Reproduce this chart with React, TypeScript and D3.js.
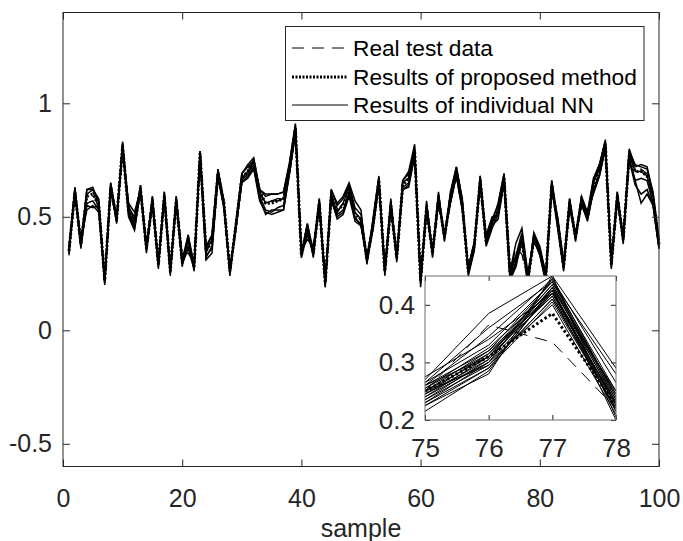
import * as d3 from "d3";
import { useRef, useEffect } from "react";

// sample index on the x axis
const samples = d3.range(1, 101);

// real test data (dashed)
const realData = [
  0.34, 0.62, 0.37, 0.60, 0.61, 0.54, 0.21, 0.64, 0.48, 0.83,
  0.53, 0.46, 0.63, 0.35, 0.58, 0.28, 0.60, 0.25, 0.58, 0.29,
  0.40, 0.27, 0.79, 0.34, 0.40, 0.70, 0.55, 0.25, 0.45, 0.68,
  0.71, 0.75, 0.60, 0.56, 0.57, 0.58, 0.58, 0.72, 0.91, 0.32,
  0.46, 0.33, 0.57, 0.19, 0.60, 0.52, 0.56, 0.63, 0.52, 0.48,
  0.30, 0.47, 0.67, 0.25, 0.56, 0.31, 0.65, 0.68, 0.81, 0.20,
  0.55, 0.33, 0.59, 0.40, 0.59, 0.71, 0.56, 0.25, 0.36, 0.67,
  0.38, 0.47, 0.52, 0.68, 0.25, 0.365, 0.335, 0.22, 0.41, 0.34,
  0.22, 0.65, 0.46, 0.27, 0.57, 0.40, 0.58, 0.49, 0.65, 0.72,
  0.84, 0.28, 0.60, 0.39, 0.79, 0.71, 0.71, 0.69, 0.58, 0.37,
];

// results of proposed method (dotted)
const proposedData = [
  0.35, 0.61, 0.38, 0.59, 0.60, 0.55, 0.22, 0.63, 0.49, 0.81,
  0.52, 0.47, 0.62, 0.36, 0.57, 0.29, 0.59, 0.26, 0.57, 0.30,
  0.39, 0.28, 0.78, 0.35, 0.39, 0.69, 0.56, 0.26, 0.46, 0.67,
  0.70, 0.74, 0.61, 0.56, 0.56, 0.57, 0.58, 0.71, 0.89, 0.33,
  0.45, 0.34, 0.56, 0.21, 0.59, 0.53, 0.55, 0.62, 0.51, 0.49,
  0.31, 0.46, 0.66, 0.26, 0.55, 0.32, 0.64, 0.67, 0.79, 0.22,
  0.54, 0.34, 0.58, 0.41, 0.58, 0.70, 0.55, 0.26, 0.37, 0.66,
  0.39, 0.46, 0.53, 0.67, 0.25, 0.31, 0.385, 0.225, 0.40, 0.35,
  0.23, 0.64, 0.47, 0.28, 0.56, 0.41, 0.57, 0.50, 0.64, 0.71,
  0.82, 0.29, 0.59, 0.40, 0.77, 0.70, 0.70, 0.68, 0.58, 0.38,
];

// results of individual NN (solid)
const nn1 = [
  0.36, 0.63, 0.39, 0.62, 0.63, 0.56, 0.22, 0.65, 0.50, 0.82,
  0.55, 0.48, 0.64, 0.36, 0.59, 0.29, 0.61, 0.26, 0.59, 0.31,
  0.42, 0.29, 0.79, 0.36, 0.42, 0.71, 0.57, 0.26, 0.47, 0.69,
  0.72, 0.75, 0.62, 0.59, 0.60, 0.60, 0.61, 0.73, 0.90, 0.34,
  0.47, 0.35, 0.58, 0.21, 0.62, 0.55, 0.58, 0.64, 0.54, 0.51,
  0.32, 0.48, 0.67, 0.27, 0.57, 0.33, 0.66, 0.69, 0.80, 0.23,
  0.56, 0.35, 0.60, 0.42, 0.60, 0.72, 0.57, 0.27, 0.38, 0.68,
  0.41, 0.49, 0.55, 0.69, 0.27, 0.33, 0.43, 0.24, 0.42, 0.36,
  0.24, 0.66, 0.49, 0.29, 0.58, 0.42, 0.59, 0.52, 0.67, 0.73,
  0.83, 0.30, 0.61, 0.41, 0.79, 0.73, 0.72, 0.71, 0.61, 0.40,
];
const nn2 = [
  0.34, 0.60, 0.37, 0.56, 0.57, 0.53, 0.21, 0.62, 0.48, 0.80,
  0.50, 0.44, 0.61, 0.35, 0.56, 0.28, 0.58, 0.25, 0.56, 0.29,
  0.36, 0.27, 0.77, 0.33, 0.36, 0.68, 0.55, 0.25, 0.45, 0.65,
  0.68, 0.72, 0.59, 0.53, 0.52, 0.54, 0.55, 0.70, 0.88, 0.32,
  0.43, 0.33, 0.55, 0.20, 0.58, 0.51, 0.53, 0.61, 0.49, 0.47,
  0.30, 0.45, 0.65, 0.25, 0.54, 0.31, 0.63, 0.65, 0.78, 0.21,
  0.53, 0.33, 0.57, 0.40, 0.57, 0.69, 0.54, 0.25, 0.36, 0.65,
  0.37, 0.45, 0.51, 0.66, 0.24, 0.30, 0.41, 0.22, 0.39, 0.34,
  0.22, 0.63, 0.45, 0.27, 0.55, 0.40, 0.56, 0.48, 0.62, 0.69,
  0.81, 0.28, 0.58, 0.39, 0.76, 0.66, 0.67, 0.66, 0.56, 0.37,
];
const nn3 = [
  0.35, 0.62, 0.38, 0.60, 0.62, 0.57, 0.22, 0.64, 0.49, 0.82,
  0.53, 0.46, 0.63, 0.37, 0.58, 0.30, 0.60, 0.27, 0.58, 0.31,
  0.40, 0.28, 0.78, 0.35, 0.40, 0.70, 0.56, 0.27, 0.46, 0.67,
  0.70, 0.74, 0.61, 0.56, 0.57, 0.57, 0.58, 0.72, 0.89, 0.35,
  0.44, 0.36, 0.57, 0.22, 0.60, 0.52, 0.56, 0.63, 0.52, 0.49,
  0.31, 0.47, 0.66, 0.26, 0.56, 0.32, 0.65, 0.67, 0.80, 0.22,
  0.55, 0.34, 0.59, 0.41, 0.59, 0.71, 0.56, 0.26, 0.37, 0.67,
  0.39, 0.47, 0.53, 0.68, 0.25, 0.32, 0.42, 0.23, 0.41, 0.35,
  0.23, 0.65, 0.47, 0.28, 0.57, 0.41, 0.58, 0.50, 0.65, 0.71,
  0.82, 0.29, 0.60, 0.40, 0.78, 0.70, 0.70, 0.68, 0.59, 0.39,
];
const nn4 = [
  0.37, 0.61, 0.40, 0.53, 0.55, 0.52, 0.23, 0.63, 0.50, 0.79,
  0.56, 0.52, 0.62, 0.38, 0.57, 0.30, 0.59, 0.27, 0.57, 0.33,
  0.34, 0.30, 0.77, 0.31, 0.34, 0.69, 0.54, 0.27, 0.44, 0.66,
  0.69, 0.73, 0.58, 0.51, 0.53, 0.53, 0.53, 0.69, 0.87, 0.35,
  0.40, 0.37, 0.54, 0.23, 0.57, 0.50, 0.52, 0.60, 0.50, 0.46,
  0.33, 0.46, 0.64, 0.28, 0.55, 0.34, 0.62, 0.64, 0.77, 0.24,
  0.52, 0.36, 0.56, 0.43, 0.56, 0.68, 0.53, 0.28, 0.39, 0.64,
  0.42, 0.50, 0.50, 0.65, 0.23, 0.29, 0.40, 0.21, 0.43, 0.37,
  0.25, 0.62, 0.50, 0.30, 0.54, 0.43, 0.55, 0.53, 0.60, 0.68,
  0.80, 0.31, 0.57, 0.42, 0.75, 0.64, 0.60, 0.62, 0.55, 0.36,
];
const nn5 = [
  0.33, 0.63, 0.36, 0.62, 0.62, 0.58, 0.20, 0.65, 0.47, 0.83,
  0.51, 0.45, 0.64, 0.34, 0.59, 0.27, 0.61, 0.24, 0.59, 0.28,
  0.42, 0.26, 0.79, 0.37, 0.42, 0.71, 0.56, 0.24, 0.47, 0.69,
  0.73, 0.76, 0.62, 0.60, 0.60, 0.60, 0.61, 0.74, 0.91, 0.33,
  0.47, 0.32, 0.58, 0.19, 0.62, 0.56, 0.59, 0.65, 0.57, 0.53,
  0.29, 0.49, 0.68, 0.24, 0.58, 0.30, 0.66, 0.70, 0.82, 0.19,
  0.57, 0.32, 0.61, 0.39, 0.61, 0.72, 0.58, 0.24, 0.35, 0.68,
  0.38, 0.48, 0.56, 0.69, 0.26, 0.385, 0.45, 0.25, 0.40, 0.33,
  0.21, 0.66, 0.46, 0.26, 0.58, 0.39, 0.59, 0.51, 0.66, 0.73,
  0.84, 0.27, 0.61, 0.38, 0.80, 0.72, 0.73, 0.72, 0.60, 0.38,
];
const nn6 = [
  0.35, 0.60, 0.37, 0.55, 0.54, 0.55, 0.21, 0.62, 0.48, 0.80,
  0.54, 0.50, 0.61, 0.36, 0.55, 0.29, 0.58, 0.26, 0.56, 0.30,
  0.37, 0.28, 0.76, 0.32, 0.37, 0.67, 0.54, 0.26, 0.45, 0.65,
  0.67, 0.71, 0.57, 0.52, 0.51, 0.52, 0.53, 0.69, 0.87, 0.34,
  0.42, 0.35, 0.54, 0.21, 0.58, 0.49, 0.51, 0.59, 0.48, 0.46,
  0.31, 0.44, 0.64, 0.26, 0.53, 0.32, 0.62, 0.63, 0.77, 0.22,
  0.52, 0.35, 0.56, 0.42, 0.56, 0.68, 0.53, 0.27, 0.38, 0.64,
  0.40, 0.46, 0.49, 0.65, 0.22, 0.28, 0.40, 0.20, 0.42, 0.35,
  0.23, 0.62, 0.48, 0.28, 0.54, 0.42, 0.55, 0.49, 0.61, 0.68,
  0.80, 0.30, 0.57, 0.41, 0.75, 0.66, 0.56, 0.60, 0.55, 0.36,
];
const nnSeries = [nn1, nn2, nn3, nn4, nn5, nn6];

// zoomed view, samples 75-78
const zoomSamples = [75, 76, 77, 78];
const zoomReal = [0.25, 0.365, 0.335, 0.22];
const zoomProposed = [0.25, 0.31, 0.385, 0.225];
const zoomNN = [
  [0.270, 0.385, 0.450, 0.290],
  [0.265, 0.360, 0.440, 0.280],
  [0.260, 0.345, 0.445, 0.265],
  [0.215, 0.285, 0.430, 0.200],
  [0.225, 0.280, 0.450, 0.205],
  [0.275, 0.340, 0.420, 0.250],
  [0.240, 0.300, 0.420, 0.230],
  [0.245, 0.305, 0.425, 0.235],
  [0.250, 0.310, 0.430, 0.240],
  [0.255, 0.315, 0.435, 0.245],
  [0.235, 0.295, 0.410, 0.225],
  [0.230, 0.290, 0.405, 0.220],
  [0.260, 0.320, 0.440, 0.250],
  [0.250, 0.320, 0.415, 0.215],
  [0.245, 0.300, 0.400, 0.210],
  [0.240, 0.310, 0.435, 0.230],
  [0.255, 0.325, 0.425, 0.225],
  [0.230, 0.300, 0.445, 0.240],
  [0.265, 0.330, 0.440, 0.235],
  [0.250, 0.295, 0.410, 0.220],
  [0.235, 0.305, 0.430, 0.245],
  [0.245, 0.315, 0.420, 0.225],
  [0.260, 0.310, 0.415, 0.230],
  [0.225, 0.290, 0.425, 0.215],
];

const xTicks = [0, 20, 40, 60, 80, 100];
const yTicks = [-0.5, 0, 0.5, 1];
const zoomXTicks = [75, 76, 77, 78];
const zoomYTicks = [0.2, 0.3, 0.4];
const legendLabels = ["Real test data", "Results of proposed method", "Results of individual NN"];

const font = "'Liberation Sans', Arial, sans-serif";
const ink = "#262626";

export default function App() {
  const svgRef = useRef<SVGSVGElement>(null);

  useEffect(() => {
    const width = 683;
    const height = 541;
    const svg = d3.select(svgRef.current);
    svg.selectAll("*").remove();

    const x = d3.scaleLinear().domain([0, 100]).range([63, 659]);
    const y = d3.scaleLinear().domain([-0.6, 1.4]).range([466.5, 12.5]);

    svg.append("rect").attr("width", width).attr("height", height).attr("fill", "white");

    const line = d3.line<number>()
      .x((d, i) => x(samples[i]))
      .y(d => y(d));

    const plot = svg.append("g");
    nnSeries.forEach(s => {
      plot.append("path").attr("d", line(s)).attr("fill", "none")
        .attr("stroke", "#000").attr("stroke-width", 1.5);
    });
    plot.append("path").attr("d", line(realData)).attr("fill", "none")
      .attr("stroke", "#000").attr("stroke-width", 1.2).attr("stroke-dasharray", "12,8");
    plot.append("path").attr("d", line(proposedData)).attr("fill", "none")
      .attr("stroke", "#000").attr("stroke-width", 3).attr("stroke-dasharray", "2,2");

    // main axes, ticks pointing inwards on all four sides
    const styleAxis = (g: any, size: number) => {
      g.attr("color", ink).attr("font-family", font).attr("font-size", size);
      g.select(".domain").remove();
    };
    svg.append("g").attr("transform", `translate(0,${y.range()[0]})`)
      .call(d3.axisBottom(x).tickValues(xTicks).tickSizeInner(-7).tickSizeOuter(0).tickPadding(23).tickFormat(d => String(d)))
      .call(g => styleAxis(g, 25));
    svg.append("g").attr("transform", `translate(0,${y.range()[1]})`)
      .call(d3.axisTop(x).tickValues(xTicks).tickSizeInner(-7).tickSizeOuter(0).tickFormat(() => ""))
      .call(g => styleAxis(g, 25));
    svg.append("g").attr("transform", `translate(${x.range()[0]},0)`)
      .call(d3.axisLeft(y).tickValues(yTicks).tickSizeInner(-7).tickSizeOuter(0).tickPadding(11).tickFormat(d => String(d)))
      .call(g => styleAxis(g, 25));
    svg.append("g").attr("transform", `translate(${x.range()[1]},0)`)
      .call(d3.axisRight(y).tickValues(yTicks).tickSizeInner(-7).tickSizeOuter(0).tickFormat(() => ""))
      .call(g => styleAxis(g, 25));
    svg.append("rect")
      .attr("x", x.range()[0]).attr("y", y.range()[1])
      .attr("width", x.range()[1] - x.range()[0]).attr("height", y.range()[0] - y.range()[1])
      .attr("fill", "none").attr("stroke", ink).attr("stroke-width", 1);

    svg.append("text")
      .attr("x", (x.range()[0] + x.range()[1]) / 2).attr("y", 537)
      .attr("text-anchor", "middle").attr("font-family", font).attr("font-size", 25)
      .attr("fill", ink).text("sample");

    // legend
    const legend = svg.append("g");
    legend.append("rect").attr("x", 285.5).attr("y", 26.5).attr("width", 358.5).attr("height", 94)
      .attr("fill", "white").attr("stroke", ink).attr("stroke-width", 1);
    const rowY = [48, 77, 105];
    const dashes = ["12,8", "2,1.5", null];
    const widths = [1, 3, 1];
    legendLabels.forEach((label, i) => {
      const l = legend.append("line").attr("x1", 292).attr("x2", 348)
        .attr("y1", rowY[i]).attr("y2", rowY[i])
        .attr("stroke", "#000").attr("stroke-width", widths[i]);
      if (dashes[i]) l.attr("stroke-dasharray", dashes[i]);
      legend.append("text").attr("x", 353).attr("y", rowY[i]).attr("dy", "0.35em")
        .attr("font-family", font).attr("font-size", 22.7).attr("fill", "#000").text(label);
    });

    // inset
    const ix = d3.scaleLinear().domain([75, 78]).range([425, 616]);
    const iy = d3.scaleLinear().domain([0.2, 0.45]).range([420, 276]);
    svg.append("rect").attr("x", 425).attr("y", 276).attr("width", 191).attr("height", 144).attr("fill", "white");
    svg.append("clipPath").attr("id", "inset-clip")
      .append("rect").attr("x", 425).attr("y", 276).attr("width", 191).attr("height", 144);
    const iline = d3.line<number>()
      .x((d, i) => ix(zoomSamples[i]))
      .y(d => iy(d));
    const inset = svg.append("g").attr("clip-path", "url(#inset-clip)");
    zoomNN.forEach(s => {
      inset.append("path").attr("d", iline(s)).attr("fill", "none")
        .attr("stroke", "#000").attr("stroke-width", 1);
    });
    inset.append("path").attr("d", iline(zoomReal)).attr("fill", "none")
      .attr("stroke", "#000").attr("stroke-width", 1).attr("stroke-dasharray", "12,8");
    inset.append("path").attr("d", iline(zoomProposed)).attr("fill", "none")
      .attr("stroke", "#000").attr("stroke-width", 3).attr("stroke-dasharray", "2.5,2.5");

    svg.append("g").attr("transform", "translate(0,420)")
      .call(d3.axisBottom(ix).tickValues(zoomXTicks).tickSizeInner(-5).tickSizeOuter(0).tickPadding(19).tickFormat(d => String(d)))
      .call(g => styleAxis(g, 26));
    svg.append("g").attr("transform", "translate(0,276)")
      .call(d3.axisTop(ix).tickValues(zoomXTicks).tickSizeInner(-5).tickSizeOuter(0).tickFormat(() => ""))
      .call(g => styleAxis(g, 26));
    svg.append("g").attr("transform", "translate(425,0)")
      .call(d3.axisLeft(iy).tickValues(zoomYTicks).tickSizeInner(-5).tickSizeOuter(0).tickPadding(10).tickFormat(d => String(d)))
      .call(g => styleAxis(g, 26));
    svg.append("g").attr("transform", "translate(616,0)")
      .call(d3.axisRight(iy).tickValues(zoomYTicks).tickSizeInner(-5).tickSizeOuter(0).tickFormat(() => ""))
      .call(g => styleAxis(g, 26));
    svg.append("rect").attr("x", 425).attr("y", 276).attr("width", 191).attr("height", 144)
      .attr("fill", "none").attr("stroke", "#6e6e6e").attr("stroke-width", 1);
  }, []);

  return (
    <div style={{ position: "absolute", left: 0, top: 0 }}>
      <svg ref={svgRef} width={683} height={541} style={{ display: "block" }}></svg>
    </div>
  );
}
